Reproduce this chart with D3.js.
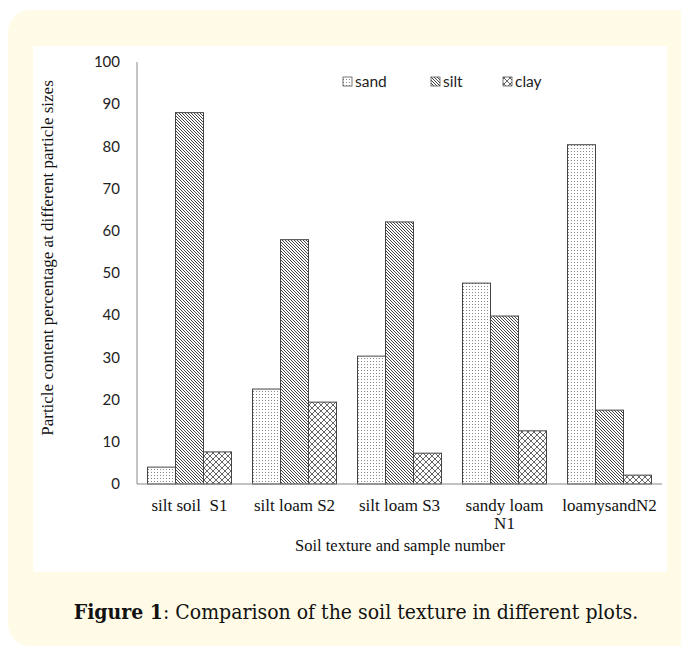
<!DOCTYPE html>
<html><head><meta charset="utf-8">
<script src="https://cdn.jsdelivr.net/npm/d3@7"></script>
<style>body{margin:0;background:#fff;}svg{display:block;}</style>
</head><body>
<script>
const categories = [["silt soil  S1"], ["silt loam S2"], ["silt loam S3"], ["sandy loam", "N1"], ["loamysandN2"]];
const series = ["sand", "silt", "clay"];
const sand = [4.0, 22.5, 30.3, 47.6, 80.4];
const silt = [88.0, 57.9, 62.1, 39.8, 17.5];
const clay = [7.6, 19.4, 7.3, 12.6, 2.1];
const yTicks = [0, 10, 20, 30, 40, 50, 60, 70, 80, 90, 100];
const values = {sand, silt, clay};

const W = 681, H = 654;
const svg = d3.select("body").append("svg").attr("width", W).attr("height", H);
const defs = svg.append("defs");
const serif = "'Liberation Serif', 'Times New Roman', Times, serif";

// patterns
const pSand = defs.append("pattern").attr("id", "p-sand").attr("patternUnits", "userSpaceOnUse").attr("width", 3).attr("height", 3);
pSand.append("rect").attr("width", 3).attr("height", 3).attr("fill", "#fff");
pSand.append("rect").attr("x", 1).attr("y", 1).attr("width", 1).attr("height", 1).attr("fill", "#888");
const pSilt = defs.append("pattern").attr("id", "p-silt").attr("patternUnits", "userSpaceOnUse").attr("width", 3).attr("height", 3);
pSilt.append("rect").attr("width", 3).attr("height", 3).attr("fill", "#fff");
pSilt.append("path").attr("d", "M-1,-1L4,4M-1,2L1,4M2,-1L4,1").attr("stroke", "#444").attr("stroke-width", 1);
const pClay = defs.append("pattern").attr("id", "p-clay").attr("patternUnits", "userSpaceOnUse").attr("width", 6).attr("height", 6);
pClay.append("rect").attr("width", 6).attr("height", 6).attr("fill", "#fff");
pClay.append("path").attr("d", "M0,0L6,6M6,0L0,6").attr("stroke", "#555").attr("stroke-width", 0.9);
const fills = {sand: "url(#p-sand)", silt: "url(#p-silt)", clay: "url(#p-clay)"};

// panel
svg.append("rect").attr("x", 8).attr("y", 10).attr("width", 690).attr("height", 636).attr("rx", 22).attr("fill", "#fffbe6");
svg.append("rect").attr("x", 33).attr("y", 46).attr("width", 634).attr("height", 526).attr("fill", "#fff");

const x0 = 137, x1 = 662, yTop = 62, yBot = 484;
const x = d3.scaleBand().domain(d3.range(categories.length)).range([x0, x1]).paddingInner(0.2).paddingOuter(0.1);
const xs = d3.scaleBand().domain(series).range([0, x.bandwidth()]);
const y = d3.scaleLinear().domain([0, 100]).range([yBot, yTop]);

// y tick labels
svg.append("g").selectAll("text").data(yTicks).join("text")
  .attr("x", 120).attr("y", d => y(d)).attr("dy", "0.35em").attr("text-anchor", "end")
  .attr("font-family", "Lato, 'Open Sans', sans-serif").attr("font-size", 15).attr("fill", "#222")
  .text(d => d);

// bars
const g = svg.append("g");
series.forEach(s => {
  g.selectAll("rect." + s).data(values[s]).join("rect").attr("class", s)
    .attr("x", (d, i) => x(i) + xs(s)).attr("width", xs.bandwidth())
    .attr("y", d => y(d)).attr("height", d => y(0) - y(d))
    .attr("fill", fills[s]).attr("stroke", "#444").attr("stroke-width", 1);
});

// axes lines
svg.append("line").attr("x1", x0).attr("x2", x0).attr("y1", yTop).attr("y2", yBot).attr("stroke", "#888").attr("stroke-width", 1);
svg.append("line").attr("x1", x0).attr("x2", x1).attr("y1", yBot).attr("y2", yBot).attr("stroke", "#888").attr("stroke-width", 1.2);

// category labels
const cl = svg.append("g").attr("font-family", serif).attr("font-size", 17).attr("fill", "#111");
categories.forEach((lines, i) => {
  const t = cl.append("text").attr("x", x(i) + x.bandwidth() / 2).attr("y", 511).attr("text-anchor", "middle").attr("xml:space", "preserve");
  lines.forEach((ln, k) => t.append("tspan").attr("x", x(i) + x.bandwidth() / 2).attr("dy", k === 0 ? 0 : 18).text(ln));
});

// axis titles
svg.append("text").attr("x", 400).attr("y", 551).attr("text-anchor", "middle")
  .attr("font-family", serif).attr("font-size", 16.5).attr("fill", "#111")
  .text("Soil texture and sample number");
svg.append("text").attr("transform", "translate(53,258) rotate(-90)").attr("text-anchor", "middle")
  .attr("font-family", serif).attr("font-size", 17).attr("fill", "#111")
  .text("Particle content percentage at different particle sizes");

// legend
const legX = [343, 431, 503];
const leg = svg.append("g");
series.forEach((s, i) => {
  leg.append("rect").attr("x", legX[i]).attr("y", 77).attr("width", 9).attr("height", 9)
    .attr("fill", fills[s]).attr("stroke", "#555").attr("stroke-width", 0.8);
  leg.append("text").attr("x", legX[i] + 12).attr("y", 82).attr("dy", "0.35em")
    .attr("font-family", "Lato, 'Open Sans', sans-serif").attr("font-size", 15.5).attr("fill", "#222").text(s);
});

// caption
const cap = svg.append("text").attr("x", 356).attr("y", 619).attr("text-anchor", "middle")
  .attr("font-family", "'DejaVu Serif Condensed', 'DejaVu Serif', serif").attr("font-stretch", "condensed")
  .attr("font-size", 21).attr("fill", "#111");
cap.append("tspan").attr("font-weight", "bold").text("Figure 1");
cap.append("tspan").text(": Comparison of the soil texture in different plots.");
</script>
</body></html>
